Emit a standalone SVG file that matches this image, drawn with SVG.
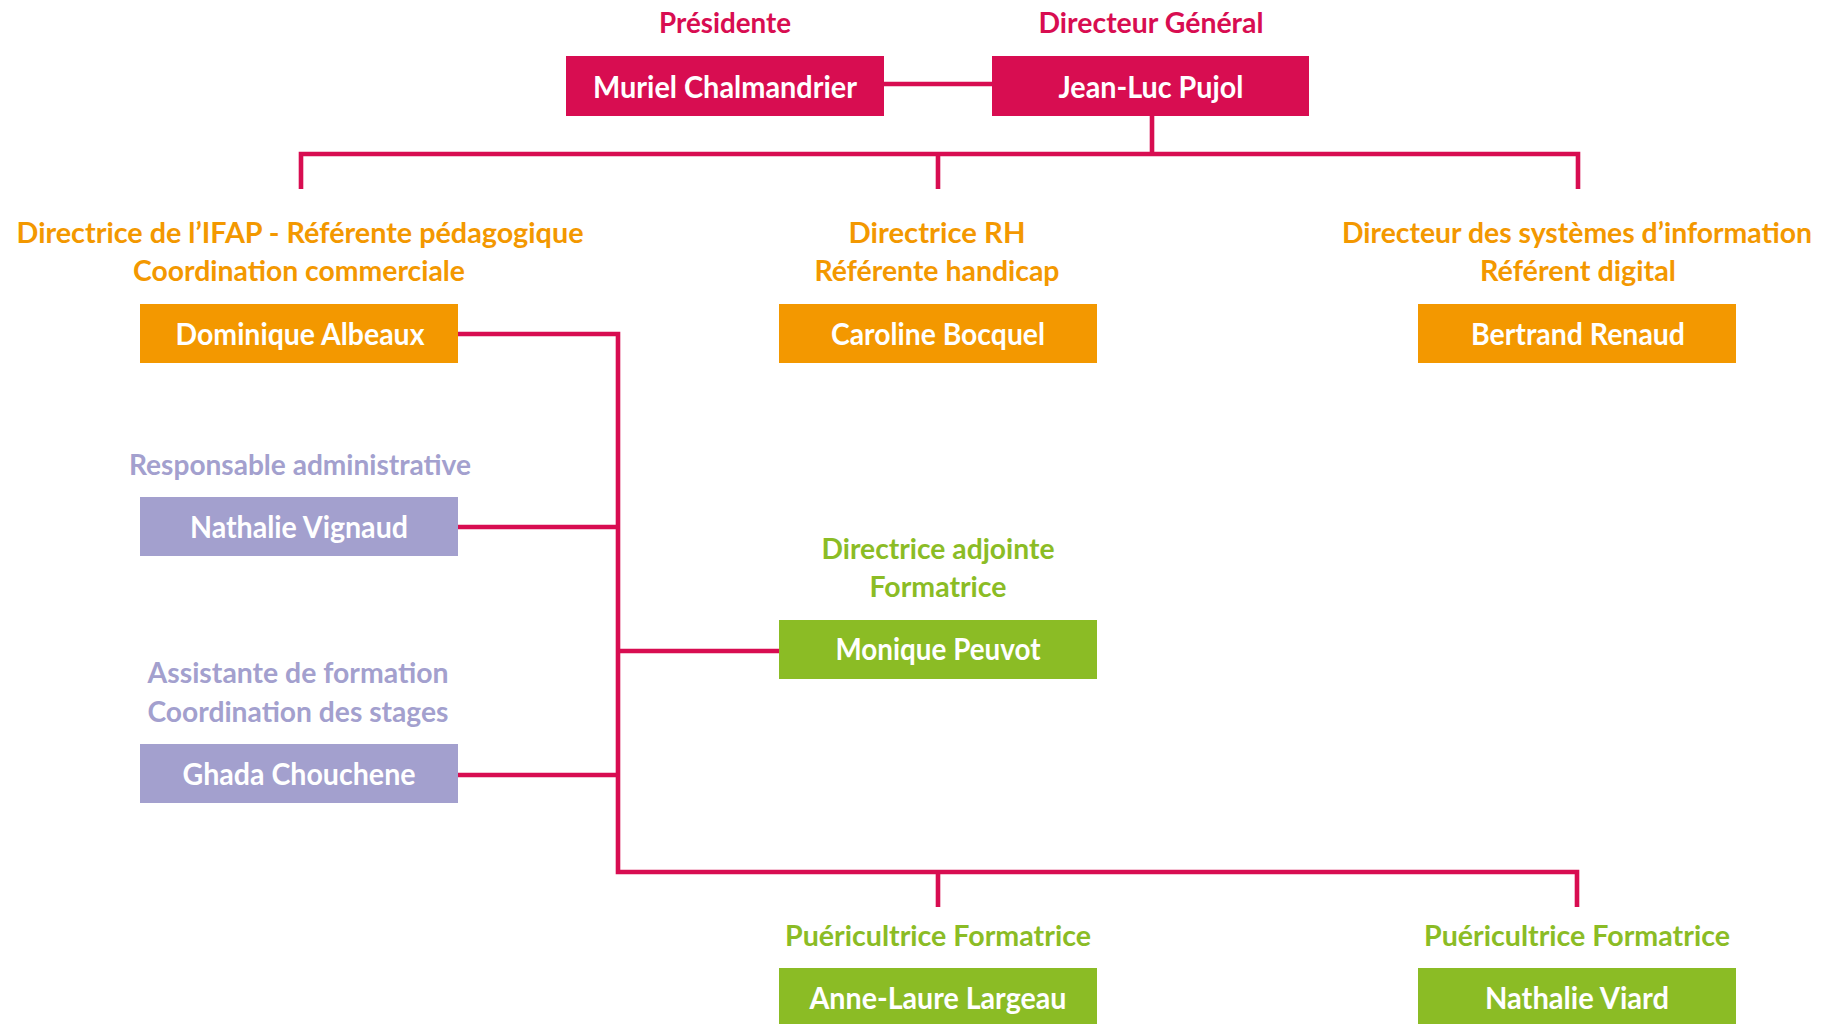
<svg xmlns="http://www.w3.org/2000/svg" width="1828" height="1024" viewBox="0 0 1828 1024">
<style>
text{font-family:Lato,"Open Sans","Liberation Sans",sans-serif;font-weight:700;text-anchor:middle}
.t{font-size:28px}
.n{font-size:30px;fill:#fff}
.mag{fill:#D80D51}
.ora{fill:#F39800}
.pur{fill:#A3A0CE}
.grn{fill:#8BBC25}
.c{fill:none;stroke:#D80D51;stroke-width:4.6}
</style>
<rect width="1828" height="1024" fill="#fff"/>
<g id="connectors">
<path class="c" d="M884 84H992"/>
<path class="c" d="M1152 116V154"/>
<path class="c" d="M301 189V154H1578V189M938 154V189"/>
<path class="c" d="M458 334H618V872H1577V907M938 872V907"/>
<path class="c" d="M458 527H618M618 651H779M458 775H618"/>
</g>
<g id="node-presidente">
<text class="t mag" x="725" y="33" textLength="132" lengthAdjust="spacingAndGlyphs">Présidente</text>
<rect class="mag" x="566" y="56" width="318" height="60"/>
<text class="n" x="725" y="98" textLength="264" lengthAdjust="spacingAndGlyphs">Muriel Chalmandrier</text>
</g>
<g id="node-dg">
<text class="t mag" x="1151" y="33" textLength="225" lengthAdjust="spacingAndGlyphs">Directeur Général</text>
<rect class="mag" x="992" y="56" width="317" height="60"/>
<text class="n" x="1151" y="98" textLength="185" lengthAdjust="spacingAndGlyphs">Jean-Luc Pujol</text>
</g>
<g id="node-albeaux">
<text class="t ora" x="300" y="243" textLength="567" lengthAdjust="spacingAndGlyphs">Directrice de l’IFAP - Référente pédagogique</text>
<text class="t ora" x="299" y="281" textLength="332" lengthAdjust="spacingAndGlyphs">Coordination commerciale</text>
<rect class="ora" x="140" y="304" width="318" height="59"/>
<text class="n" x="300" y="345" textLength="249" lengthAdjust="spacingAndGlyphs">Dominique Albeaux</text>
</g>
<g id="node-bocquel">
<text class="t ora" x="937" y="243" textLength="177" lengthAdjust="spacingAndGlyphs">Directrice RH</text>
<text class="t ora" x="937" y="281" textLength="245" lengthAdjust="spacingAndGlyphs">Référente handicap</text>
<rect class="ora" x="779" y="304" width="318" height="59"/>
<text class="n" x="938" y="345" textLength="214" lengthAdjust="spacingAndGlyphs">Caroline Bocquel</text>
</g>
<g id="node-renaud">
<text class="t ora" x="1577" y="243" textLength="470" lengthAdjust="spacingAndGlyphs">Directeur des systèmes d’information</text>
<text class="t ora" x="1578" y="281" textLength="196" lengthAdjust="spacingAndGlyphs">Référent digital</text>
<rect class="ora" x="1418" y="304" width="318" height="59"/>
<text class="n" x="1578" y="345" textLength="214" lengthAdjust="spacingAndGlyphs">Bertrand Renaud</text>
</g>
<g id="node-vignaud">
<text class="t pur" x="300" y="475" textLength="342" lengthAdjust="spacingAndGlyphs">Responsable administrative</text>
<rect class="pur" x="140" y="497" width="318" height="59"/>
<text class="n" x="299" y="538" textLength="218" lengthAdjust="spacingAndGlyphs">Nathalie Vignaud</text>
</g>
<g id="node-peuvot">
<text class="t grn" x="938" y="559" textLength="233" lengthAdjust="spacingAndGlyphs">Directrice adjointe</text>
<text class="t grn" x="938" y="597" textLength="137" lengthAdjust="spacingAndGlyphs">Formatrice</text>
<rect class="grn" x="779" y="620" width="318" height="59"/>
<text class="n" x="938" y="660" textLength="205" lengthAdjust="spacingAndGlyphs">Monique Peuvot</text>
</g>
<g id="node-chouchene">
<text class="t pur" x="298" y="683" textLength="301" lengthAdjust="spacingAndGlyphs">Assistante de formation</text>
<text class="t pur" x="298" y="722" textLength="301" lengthAdjust="spacingAndGlyphs">Coordination des stages</text>
<rect class="pur" x="140" y="744" width="318" height="59"/>
<text class="n" x="299" y="785" textLength="233" lengthAdjust="spacingAndGlyphs">Ghada Chouchene</text>
</g>
<g id="node-largeau">
<text class="t grn" x="938" y="946" textLength="306" lengthAdjust="spacingAndGlyphs">Puéricultrice Formatrice</text>
<rect class="grn" x="779" y="968" width="318" height="59"/>
<text class="n" x="938" y="1009" textLength="257" lengthAdjust="spacingAndGlyphs">Anne-Laure Largeau</text>
</g>
<g id="node-viard">
<text class="t grn" x="1577" y="946" textLength="306" lengthAdjust="spacingAndGlyphs">Puéricultrice Formatrice</text>
<rect class="grn" x="1418" y="968" width="318" height="59"/>
<text class="n" x="1577" y="1009" textLength="184" lengthAdjust="spacingAndGlyphs">Nathalie Viard</text>
</g>
</svg>
